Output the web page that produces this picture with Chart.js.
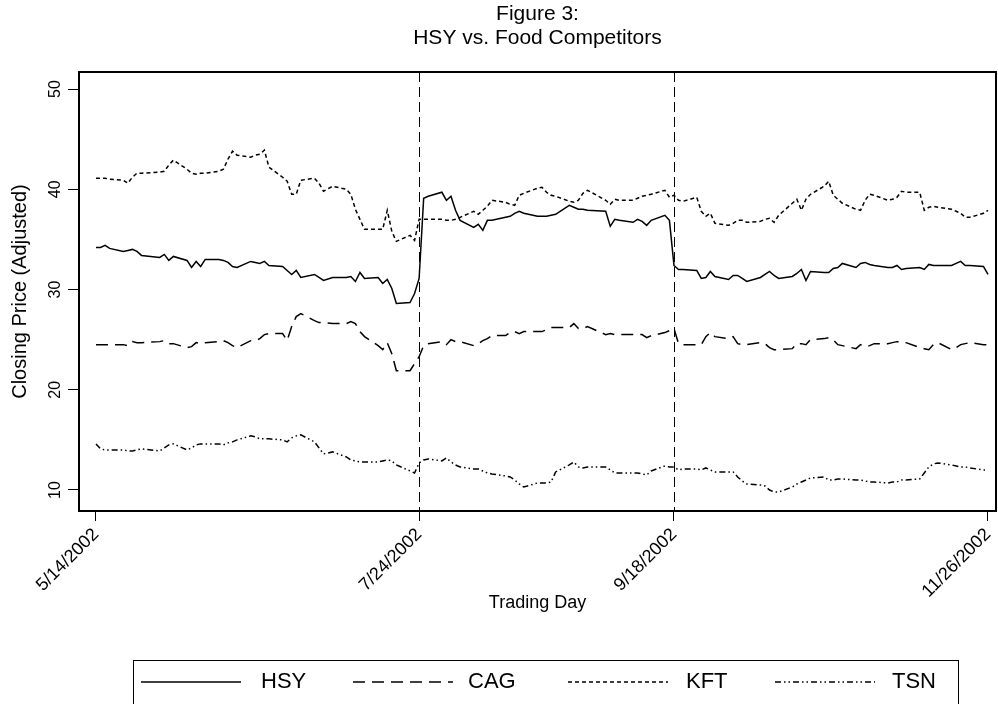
<!DOCTYPE html>
<html>
<head>
<meta charset="utf-8">
<script src="https://cdn.jsdelivr.net/npm/chart.js@4.4.1/dist/chart.umd.min.js"></script>
<style>
html,body{margin:0;padding:0;background:#fff;}
canvas{display:block;}
</style>
</head>
<body>
<canvas id="chart-1" width="998" height="704"></canvas>
<script>
// calendar days since 5/14/2002, one entry per trading day
const tradingDay=[0,1,2,3,6,7,8,9,10,14,15,16,17,20,21,22,23,24,27,28,29,30,31,34,35,36,37,38,41,42,43,44,45,48,49,50,52,55,56,57,58,59,62,63,64,65,66,69,70,71,72,73,76,77,78,79,80,83,84,85,86,87,90,91,92,93,94,97,98,99,100,101,104,105,106,107,108,112,113,114,115,118,119,120,121,122,125,126,127,128,129,132,133,134,135,136,139,140,141,142,143,146,147,148,149,150,153,154,155,156,157,160,161,162,163,164,167,168,169,170,171,174,175,176,177,178,181,182,183,184,185,188,189,190,191,192,195,196];
const hsy=[34.2,34.2,34.4,34.1, 33.8,33.9,34.0,33.8,33.4, 33.2,33.5,32.9,33.3, 32.9,32.2,32.8,32.3,33.0, 33.0,32.9,32.7,32.3,32.2, 32.8,32.7,32.6,32.8,32.4, 32.3,31.9,31.5,31.9,31.2, 31.5,31.2,30.9,31.2, 31.2,31.3,30.8,31.7,31.1, 31.2,30.6,31.0,30.1,28.6, 28.7,29.6,31.1,39.1,39.3, 39.7,38.9,39.3,37.9,36.9, 36.2,36.5,35.9,36.9,36.9, 37.2,37.3,37.6,37.8,37.6, 37.3,37.3,37.3,37.4,37.5, 38.4,38.2,38.0,38.0,37.9, 37.8,36.3,37.0,36.9, 36.7,37.0,36.8,36.4,36.9, 37.4,36.9,32.4,32.0,32.0, 31.9,31.1,31.2,31.8,31.3, 31.0,31.4,31.4,31.1,30.8, 31.2,31.5,31.8,31.4,31.1, 31.3,31.6,32.0,30.9,31.8, 31.7,31.7,32.1,32.2,32.6, 32.2,32.6,32.7,32.5,32.4, 32.2,32.2,32.4,32.0,32.1, 32.2,32.0,32.5,32.4,32.4, 32.4,32.6,32.8,32.4,32.4, 32.3,31.5];
const cag=[24.5,24.5,24.5,24.5, 24.5,24.4,24.8,24.7,24.7, 24.8,24.9,24.6,24.6, 24.2,24.3,24.7,24.6,24.7, 24.8,24.9,24.7,24.4,24.2, 24.9,24.9,25.1,25.5,25.6, 25.6,24.9,26.3,27.3,27.6, 26.9,26.7,26.7,26.6, 26.6,26.8,26.6,25.8,25.3, 24.4,24.0,24.7,23.6,21.9, 21.9,22.6,23.3,24.4,24.6, 24.8,24.5,25.0,24.8,24.8, 24.4,24.6,24.9,25.1,25.4, 25.4,25.7,25.8,25.6,25.8, 25.8,25.8,26.0,26.2,26.2, 26.2,26.6,26.1,26.1,26.3, 25.5,25.6,25.5,25.5, 25.5,25.5,25.5,25.2,25.4, 25.7,25.9,26.1,24.6,24.5, 24.5,24.5,25.3,25.7,25.3, 25.1,25.3,24.6,24.5,24.5, 24.7,24.6,24.2,24.0,24.0, 24.1,24.6,24.6,24.5,25.0, 25.1,25.2,25.0,24.5,24.4, 24.1,24.5,24.3,24.4,24.6, 24.6,24.7,24.8,24.8,24.7, 24.2,24.1,24.0,24.5,24.7, 24.0,24.2,24.5,24.6,24.7, 24.5,24.5];
const kft=[41.1,41.1,41.1,41.0, 40.9,40.6,41.2,41.6,41.6, 41.7,41.8,42.4,42.9, 42.0,41.6,41.5,41.6,41.6, 41.8,42.0,43.0,43.8,43.4, 43.2,43.4,43.5,43.9,42.2, 41.2,40.8,39.5,39.5,40.9, 41.1,40.6,39.8,40.3, 40.0,39.5,38.0,37.0,36.0, 36.0,36.0,37.9,35.8,34.8, 35.4,34.9,37.0,37.0,37.0, 37.0,36.9,36.9,37.0,37.2, 37.8,37.5,37.9,38.3,38.9, 38.7,38.5,38.4,39.4,39.6, 40.1,40.2,39.7,39.4,39.3, 38.8,38.7,38.9,39.6,39.9, 38.9,38.5,39.0,38.9, 38.9,39.1,39.3,39.4,39.5, 39.9,39.2,39.4,38.9,38.8, 39.2,37.8,37.3,37.6,36.6, 36.4,36.6,36.9,36.9,36.7, 36.8,37.0,37.1,36.7,37.4, 38.6,39.0,37.9,39.0,39.5, 40.3,40.8,39.4,39.0,38.6, 38.0,37.9,38.9,39.5,39.4, 38.9,39.0,39.2,39.8,39.7, 39.7,37.9,38.2,38.3,38.2, 38.0,37.8,37.6,37.2,37.2, 37.6,37.9];
const tsn=[14.6,14.1,14.0,14.0, 14.0,13.9,13.9,14.0,14.1, 13.9,14.2,14.5,14.6, 14.0,14.2,14.5,14.6,14.6, 14.6,14.5,14.7,14.8,15.0, 15.4,15.3,15.1,15.1,15.1, 15.0,14.8,15.2,15.4,15.5, 14.8,14.2,13.6,13.8, 13.3,13.0,12.9,12.8,12.8, 12.8,12.9,13.0,12.9,12.5, 11.9,11.7,12.7,13.0,13.1, 12.9,13.2,12.8,12.5,12.3, 12.1,12.1,11.9,11.7,11.6, 11.4,11.3,11.0,10.6,10.3, 10.7,10.7,10.7,10.8,11.8, 12.5,12.8,12.3,12.2,12.3, 12.3,12.0,11.7,11.7, 11.7,11.7,11.6,11.5,11.9, 12.4,12.3,12.3,12.0,12.1, 12.1,12.0,12.2,12.0,11.8, 11.8,11.8,11.3,10.9,10.6, 10.5,10.4,10.0,9.8,9.8, 10.3,10.6,10.8,11.0,11.2, 11.3,11.0,11.0,11.1,11.1, 11.0,11.0,10.9,10.8,10.8, 10.7,10.8,10.8,11.0,11.0, 11.1,11.7,12.3,12.6,12.7, 12.5,12.4,12.3,12.3,12.2, 12.0,12.0];

const seriesNames=['HSY','CAG','KFT','TSN'];
const tickDays=[0,71,127,196];
const tickLabels=['5/14/2002','7/24/2002','9/18/2002','11/26/2002'];
const eventDays=[71,127];
const yTicks=[10,20,30,40,50];

const FONT='"Liberation Sans", Arial, sans-serif';
const dashes=[[],[12,7],[4,3],[6,3,1.5,3,1.5,3]];

function pts(vals){return tradingDay.map((d,i)=>({x:d,y:vals[i]}));}

const decor={
  id:'decor',
  beforeDatasetsDraw(chart){
    const {ctx,chartArea:a,scales:{x}}=chart;
    ctx.save();
    ctx.strokeStyle='#000';ctx.lineWidth=1;ctx.setLineDash([10,5]);
    eventDays.forEach(d=>{
      const px=Math.round(x.getPixelForValue(d))+0.5;
      ctx.beginPath();ctx.moveTo(px,a.top);ctx.lineTo(px,a.bottom);ctx.stroke();
    });
    ctx.restore();
  },
  afterDraw(chart){
    const {ctx,chartArea:a,scales:{y}}=chart;
    const cx=(a.left+a.right)/2;
    ctx.save();
    ctx.strokeStyle='#000';ctx.lineWidth=2;ctx.setLineDash([]);
    ctx.strokeRect(a.left,a.top,a.right-a.left,a.bottom-a.top);
    ctx.fillStyle='#000';ctx.textAlign='center';ctx.textBaseline='middle';
    // y tick labels, rotated
    ctx.font='16px '+FONT;
    yTicks.forEach(v=>{
      ctx.save();ctx.translate(56,y.getPixelForValue(v));ctx.rotate(-Math.PI/2);
      ctx.fillText(String(v),0,0);ctx.restore();
    });
    // axis titles
    ctx.font='20px '+FONT;
    ctx.save();ctx.translate(20,(a.top+a.bottom)/2);ctx.rotate(-Math.PI/2);
    ctx.fillText('Closing Price (Adjusted)',0,0);ctx.restore();
    ctx.font='18px '+FONT;
    ctx.fillText('Trading Day',cx,603);
    // title
    ctx.font='21px '+FONT;
    ctx.fillText('Figure 3:',cx,14);
    ctx.fillText('HSY vs. Food Competitors',cx,38);
    // legend
    ctx.lineWidth=1;
    ctx.strokeRect(133.5,660.5,825,50);
    const lx=[141,353,568,775], tx=[261,468,686,892], ly=682;
    ctx.textAlign='left';ctx.font='22px '+FONT;
    seriesNames.forEach((n,i)=>{
      ctx.save();ctx.lineWidth=1.5;ctx.setLineDash(dashes[i]);
      ctx.beginPath();ctx.moveTo(lx[i],ly);ctx.lineTo(lx[i]+100,ly);ctx.stroke();ctx.restore();
      ctx.fillText(n,tx[i],ly);
    });
    ctx.restore();
  }
};

const ctx=document.getElementById('chart-1');
new Chart(ctx.getContext('2d'),{
  type:'line',
  data:{datasets:[hsy,cag,kft,tsn].map((v,i)=>({
    label:seriesNames[i],data:pts(v),borderColor:'#000',borderWidth:1.5,
    borderDash:dashes[i],pointRadius:0,tension:0,fill:false
  }))},
  options:{
    responsive:false,animation:false,devicePixelRatio:1,
    layout:{padding:{left:68,top:72,right:2,bottom:93}},
    plugins:{legend:{display:false},title:{display:false},tooltip:{enabled:false}},
    scales:{
      x:{type:'linear',min:-3.735,max:197.76,
        afterBuildTicks:s=>{s.ticks=tickDays.map(v=>({value:v}));},
        afterFit:s=>{s.height=100;s.paddingLeft=0;s.paddingRight=0;},
        border:{display:false},
        grid:{drawOnChartArea:false,drawTicks:true,tickLength:10,color:'#000',lineWidth:1},
        ticks:{autoSkip:false,minRotation:45,maxRotation:45,padding:3,color:'#000',
          font:{family:FONT,size:18},
          callback:v=>tickLabels[tickDays.indexOf(v)]}
      },
      y:{type:'linear',min:7.905,max:51.696,
        afterBuildTicks:s=>{s.ticks=yTicks.map(v=>({value:v}));},
        afterFit:s=>{s.width=11;s.paddingTop=0;s.paddingBottom=0;},
        border:{display:false},
        grid:{drawOnChartArea:false,drawTicks:true,tickLength:11,color:'#000',lineWidth:1},
        ticks:{display:false}
      }
    }
  },
  plugins:[decor]
});
</script>
</body>
</html>
